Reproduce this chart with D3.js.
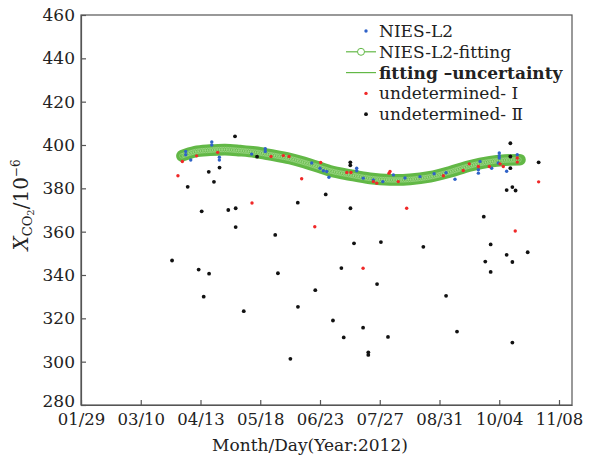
<!DOCTYPE html>
<html><head><meta charset="utf-8">
<script src="https://cdn.jsdelivr.net/npm/d3@7/dist/d3.min.js"></script>
<style>body{margin:0;background:#fff}svg{display:block}</style></head>
<body><svg id="c" width="597" height="456"></svg>
<script>
// ---- data ----
const xTickLabels = ["01/29","03/10","04/13","05/18","06/23","07/27","08/31","10/04","11/08"];
const yTickValues = [280,300,320,340,360,380,400,420,440,460];

// fitted curve (day of year 2012, ppm) and its uncertainty
const fitDay = [89.0, 96.7, 105.6, 114.6, 123.5, 132.4, 141.3, 153.2, 165.1, 176.9, 188.8, 200.7, 212.6, 224.5, 236.4, 248.2, 260.1, 272.0, 280.9, 289.8];
const fitVal = [395.0, 396.9, 397.6, 397.9, 397.4, 396.7, 395.5, 393.7, 391.1, 388.1, 386.2, 384.6, 383.9, 384.1, 385.3, 387.6, 390.4, 392.3, 393.0, 393.2];
const fitUnc = [2.7, 2.7, 2.7, 2.7, 2.7, 2.7, 2.7, 2.7, 2.7, 2.7, 2.7, 2.7, 2.7, 2.7, 2.7, 2.7, 2.7, 2.7, 2.7, 2.7];

// NIES-L2
const l2Day = [91.2, 91.2, 94.2, 106.7, 106.7, 111.2, 111.2, 130.4, 138.5, 138.5, 166.1, 171.0, 173.0, 175.0, 176.3, 192.8, 192.8, 196.7, 202.7, 208.3, 214.6, 221.5, 230.4, 238.8, 245.9, 251.2, 265.1, 265.1, 266.1, 273.0, 276.9, 277.5, 277.5, 277.5, 281.9, 288.2];
const l2Val = [397.0, 395.5, 393.1, 401.4, 400.0, 394.4, 393.1, 395.8, 398.3, 397.0, 391.7, 389.3, 388.1, 387.8, 385.1, 389.3, 388.1, 384.7, 383.9, 383.1, 386.2, 384.8, 385.4, 386.7, 387.2, 384.2, 388.6, 387.0, 392.4, 389.3, 391.7, 396.3, 395.1, 394.0, 387.9, 395.5];

// undetermined-I
const u1Day = [86.6, 89.2, 97.7, 110.2, 130.6, 141.9, 149.2, 152.6, 160.1, 167.9, 171.4, 186.9, 189.4, 196.6, 202.7, 204.7, 212.0, 212.6, 217.5, 222.5, 244.3, 256.1, 259.7, 265.1, 271.6, 278.0, 279.9, 287.0, 288.2, 288.2, 300.9];
const u1Val = [385.8, 392.4, 395.0, 396.6, 373.2, 394.7, 395.1, 394.7, 384.4, 362.3, 391.9, 387.3, 387.3, 343.1, 383.1, 382.4, 387.0, 387.8, 383.1, 370.8, 385.8, 388.2, 391.3, 390.1, 390.1, 391.3, 390.1, 360.3, 394.0, 392.1, 383.0];

// undetermined-II
const u2Day = [83.1, 92.4, 98.9, 100.7, 101.9, 104.9, 105.1, 108.0, 111.3, 116.5, 120.5, 120.9, 120.9, 125.7, 133.6, 144.4, 146.0, 153.4, 157.8, 157.9, 168.2, 174.4, 178.7, 183.7, 185.1, 189.0, 189.0, 189.1, 191.2, 196.6, 199.7, 199.7, 204.9, 207.2, 211.4, 232.4, 245.9, 252.4, 268.3, 269.2, 272.4, 272.4, 281.9, 281.9, 284.1, 284.1, 284.1, 285.3, 285.3, 285.3, 287.2, 294.4, 300.9];
const u2Val = [346.7, 380.7, 342.5, 369.4, 330.0, 387.6, 340.6, 383.0, 389.6, 370.0, 404.0, 370.8, 362.1, 323.3, 394.6, 358.5, 340.8, 301.3, 373.4, 325.3, 333.0, 377.2, 319.0, 343.2, 311.2, 392.0, 390.6, 370.8, 354.6, 315.7, 304.3, 303.1, 335.8, 355.2, 311.4, 353.0, 330.4, 313.9, 366.9, 346.2, 354.1, 341.4, 349.3, 379.2, 400.8, 394.7, 389.3, 380.6, 346.0, 308.8, 379.0, 350.5, 392.0];

const legendLabels = ["NIES-L2", "NIES-L2-fitting", "fitting \u2013uncertainty", "undetermined- \u2160", "undetermined- \u2161"];

// ---- layout ----
const FONT = "'DejaVu Serif', 'Liberation Serif', serif";
const AX = "#555";
const GREEN = "#62b846", BLUE = "#2f62c8", RED = "#f02828", BLACK = "#111";
const X0 = 81, X1 = 572, Y0 = 405, Y1 = 15;

const svg = d3.select("#c");
// x domain runs a little past the last tick (11/08)
const x = d3.scaleLinear().domain([29, 29 + (X1 - X0) * 284 / 478]).range([X0, X1]);
const y = d3.scaleLinear().domain([280, 460]).range([Y0, Y1]);
const xTickVals = xTickLabels.map((d, i) => 29 + i * 35.5);

const g = svg.append("g");
g.append("rect").attr("x", X0).attr("y", Y1).attr("width", X1 - X0).attr("height", Y0 - Y1)
  .attr("fill", "none").attr("stroke", AX).attr("stroke-width", 1.2);

const xAxis = g.append("g").attr("transform", `translate(0,${Y0})`)
  .call(d3.axisBottom(x).tickValues(xTickVals).tickFormat((d, i) => xTickLabels[i]).tickSizeInner(-5).tickSizeOuter(0).tickPadding(8));
const yAxis = g.append("g").attr("transform", `translate(${X0},0)`)
  .call(d3.axisLeft(y).tickValues(yTickValues).tickFormat(d3.format("d")).tickSizeInner(-5).tickSizeOuter(0).tickPadding(6));
[xAxis, yAxis].forEach(a => {
  a.select(".domain").attr("stroke", AX).attr("stroke-width", 1.2);
  a.selectAll(".tick line").attr("stroke", AX).attr("stroke-width", 1.2);
  a.selectAll(".tick text").attr("fill", "#222").style("font-family", FONT).style("font-size", "17px");
});
xAxis.selectAll(".tick text").style("font-size", "16.5px");
yAxis.selectAll(".tick text").filter(d => d === 280).attr("dy", "0.1em");

// fitting band (uncertainty) + fitting curve with markers
const fitData = fitDay.map((d, i) => ({d, v: fitVal[i], u: fitUnc[i]}));
const line = d3.line().x(p => x(p.d)).y(p => y(p.v)).curve(d3.curveCatmullRom);
const bandW = y(280) - y(280 + 2 * d3.mean(fitUnc));
g.append("path").attr("d", line(fitData)).attr("fill", "none").attr("stroke", GREEN)
  .attr("stroke-width", bandW).attr("stroke-linecap", "round").attr("stroke-linejoin", "round");
const fitPath = g.append("path").attr("d", line(fitData)).attr("fill", "none").attr("stroke", "#7cc862").attr("stroke-width", 1);
const L = fitPath.node().getTotalLength();
const mk = g.append("g").attr("opacity", 0.75);
for (let s = 0; s <= L; s += 2.4) {
  const p = fitPath.node().getPointAtLength(s);
  mk.append("circle").attr("cx", p.x).attr("cy", p.y).attr("r", 2.4)
    .attr("fill", "none").attr("stroke", "#c4eab2").attr("stroke-width", 0.5);
}

// points
function dots(days, vals, color, r) {
  g.append("g").selectAll("circle").data(days.map((d, i) => [d, vals[i]])).join("circle")
    .attr("cx", p => x(p[0])).attr("cy", p => y(p[1])).attr("r", r).attr("fill", color);
}
dots(l2Day, l2Val, BLUE, 1.7);
dots(u1Day, u1Val, RED, 1.7);
dots(u2Day, u2Val, BLACK, 1.9);

// legend (no box)
const lg = svg.append("g");
const rowY = i => 31 + i * 20.8;
legendLabels.forEach((t, i) => {
  lg.append("text").attr("x", 379).attr("y", rowY(i) + 6).text(t)
    .style("font-family", FONT).style("font-size", "17px").attr("fill", "#222")
    .style("font-weight", i === 2 ? "bold" : "normal");
});
lg.append("circle").attr("cx", 366).attr("cy", rowY(0)).attr("r", 1.7).attr("fill", BLUE);
lg.append("line").attr("x1", 346).attr("x2", 376).attr("y1", rowY(1)).attr("y2", rowY(1)).attr("stroke", GREEN).attr("stroke-width", 1.2);
lg.append("circle").attr("cx", 361).attr("cy", rowY(1)).attr("r", 3.5).attr("fill", "#fff").attr("stroke", GREEN).attr("stroke-width", 1);
lg.append("line").attr("x1", 346).attr("x2", 376).attr("y1", rowY(2)).attr("y2", rowY(2)).attr("stroke", GREEN).attr("stroke-width", 1.2);
lg.append("circle").attr("cx", 366).attr("cy", rowY(3)).attr("r", 1.7).attr("fill", RED);
lg.append("circle").attr("cx", 366).attr("cy", rowY(4)).attr("r", 1.9).attr("fill", BLACK);

// axis titles
svg.append("text").attr("x", 310).attr("y", 451).attr("text-anchor", "middle")
  .style("font-family", FONT).style("font-size", "17px").attr("fill", "#222").text("Month/Day(Year:2012)");
const yt = svg.append("text").attr("transform", "translate(28,205) rotate(-90)").attr("text-anchor", "middle")
  .style("font-family", FONT).style("font-size", "20px").attr("fill", "#222");
yt.append("tspan").style("font-style", "italic").text("X");
yt.append("tspan").attr("dy", 4).style("font-size", "13px").text("CO");
yt.append("tspan").attr("dy", 2).style("font-size", "10px").text("2");
yt.append("tspan").attr("dy", -6).text("/10");
yt.append("tspan").attr("dy", -8).style("font-size", "12px").text("\u22126");
</script>
</body></html>
